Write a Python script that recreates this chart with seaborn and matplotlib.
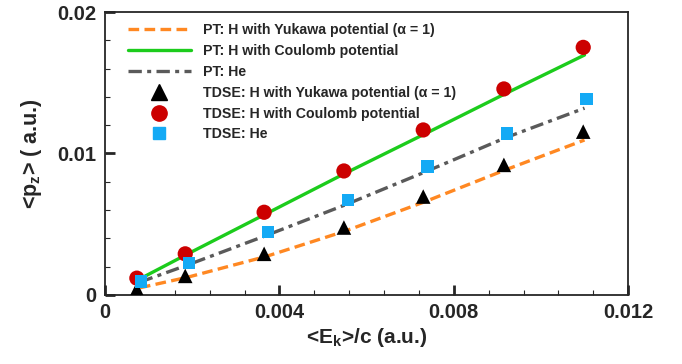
import numpy as np
import pandas as pd
import matplotlib
matplotlib.use("Agg")
import matplotlib.pyplot as plt
import seaborn as sns
from matplotlib.lines import Line2D
from matplotlib.ticker import MultipleLocator

# TDSE points
x_tdse_h = [0.00073, 0.00184, 0.00365, 0.00548, 0.00730, 0.00915, 0.01097]
yuk_tdse = [0.00040, 0.00134, 0.00290, 0.00476, 0.00695, 0.00919, 0.01154]
coul_tdse = [0.00118, 0.00290, 0.00584, 0.00876, 0.01166, 0.01456, 0.01750]
x_tdse_he = [0.00083, 0.00193, 0.00374, 0.00557, 0.00740, 0.00922, 0.01105]
he_tdse = [0.00094, 0.00224, 0.00444, 0.00671, 0.00907, 0.01140, 0.01383]

# PT curves
x_pt = [0.00080, 0.00190, 0.00370, 0.00550, 0.00735, 0.00918, 0.01100]
yuk_pt = [0.00050, 0.00125, 0.00272, 0.00450, 0.00660, 0.00883, 0.01095]
coul_pt = [0.00113, 0.00290, 0.00574, 0.00858, 0.01140, 0.01422, 0.01696]
he_pt = [0.00090, 0.00212, 0.00420, 0.00635, 0.00870, 0.01110, 0.01320]

labels = ["PT: H with Yukawa potential (\u03b1 = 1)",
          "PT: H with Coulomb potential",
          "PT: He",
          "TDSE: H with Yukawa potential (\u03b1 = 1)",
          "TDSE: H with Coulomb potential",
          "TDSE: He"]

c_orange = "#ff8822"
c_green = "#1ccc1c"
c_gray = "#5a5a5a"
c_red = "#cc0000"
c_blue = "#14aaf5"

sns.set_style("ticks")
plt.rcParams['font.family'] = ['Liberation Sans', 'DejaVu Sans']
plt.rcParams['font.weight'] = 'bold'
plt.rcParams['mathtext.fontset'] = 'custom'
plt.rcParams['mathtext.rm'] = 'Liberation Sans:bold'
plt.rcParams['mathtext.bf'] = 'Liberation Sans:bold'

fig = plt.figure(figsize=(6.82, 3.64), dpi=100)
ax = fig.add_axes([0.154, 0.19, 0.767, 0.777])

df_pt = pd.DataFrame({"x": x_pt, "yuk": yuk_pt, "coul": coul_pt, "he": he_pt})
sns.lineplot(data=df_pt, x="x", y="yuk", ax=ax, color=c_orange, lw=2.4,
             linestyle=(0, (3.2, 1.6)), sort=False)
sns.lineplot(data=df_pt, x="x", y="coul", ax=ax, color=c_green, lw=2.4, sort=False)
sns.lineplot(data=df_pt, x="x", y="he", ax=ax, color=c_gray, lw=2.4,
             linestyle=(0, (4, 1.6, 1.2, 1.6)), sort=False)

sns.scatterplot(x=x_tdse_h, y=yuk_tdse, ax=ax, marker="^", s=110, color="black",
                edgecolor="none", zorder=5)
sns.scatterplot(x=x_tdse_h, y=coul_tdse, ax=ax, marker="o", s=120, color=c_red,
                edgecolor="none", zorder=5)
sns.scatterplot(x=x_tdse_he, y=he_tdse, ax=ax, marker="s", s=80, color=c_blue,
                edgecolor="none", zorder=6)

ax.set_xlim(0, 0.012)
ax.set_ylim(0, 0.02)
ax.set_xticks([0, 0.004, 0.008, 0.012])
ax.set_xticklabels(["0", "0.004", "0.008", "0.012"])
ax.set_yticks([0, 0.01, 0.02])
ax.set_yticklabels(["0", "0.01", "0.02"])
ax.xaxis.set_minor_locator(MultipleLocator(0.0008))
ax.yaxis.set_minor_locator(MultipleLocator(0.002))
ax.tick_params(which="major", direction="in", length=7, width=2, labelsize=14.5, pad=6)
ax.tick_params(which="minor", direction="in", length=3.5, width=0.8)
for s in ax.spines.values():
    s.set_linewidth(1.3)

ax.set_xlabel("<E$_\\mathrm{k}$>/c (a.u.)", fontsize=15, fontweight="bold", labelpad=3)
ax.set_ylabel("<p$_\\mathrm{z}$> ( a.u.)", fontsize=15.5, fontweight="bold", labelpad=10)

handles = [
    Line2D([], [], color=c_orange, lw=2.4, linestyle=(0, (3.2, 1.6))),
    Line2D([], [], color=c_green, lw=2.4),
    Line2D([], [], color=c_gray, lw=2.4, linestyle=(0, (4, 1.6, 1.2, 1.6))),
    Line2D([], [], color="black", marker="^", ms=11, lw=0),
    Line2D([], [], color=c_red, marker="o", ms=11, lw=0),
    Line2D([], [], color=c_blue, marker="s", ms=8.5, lw=0),
]
leg = ax.legend(handles, labels, loc="upper left", frameon=False, fontsize=10.2,
                handlelength=4.4, handletextpad=0.85, labelspacing=0.48,
                borderaxespad=0.5, bbox_to_anchor=(0.02, 1.005))
for t in leg.get_texts():
    t.set_fontweight("bold")

fig.savefig("out.png", dpi=100)
